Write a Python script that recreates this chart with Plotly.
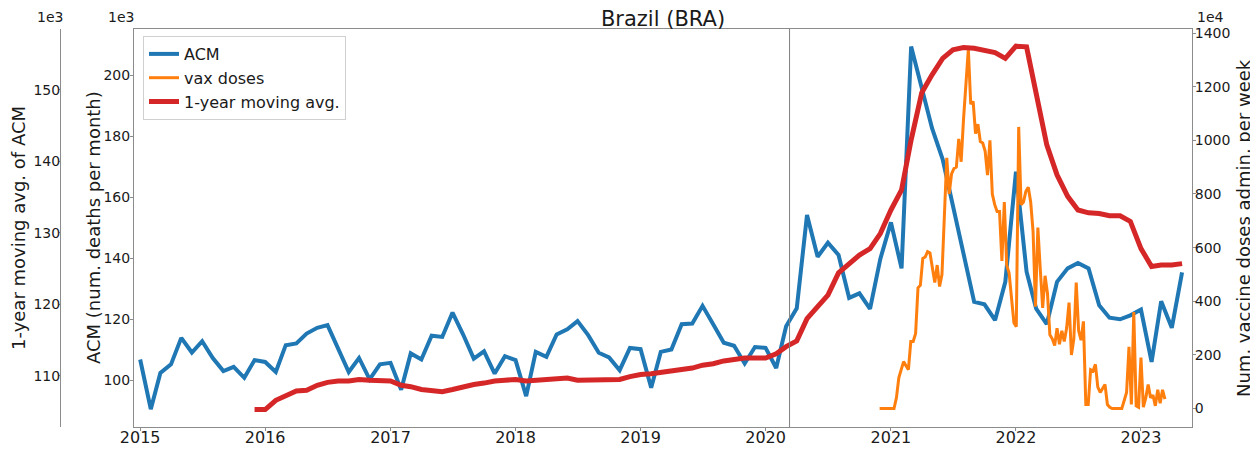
import pandas as pd
import plotly.graph_objects as go

# ── Data ─────────────────────────────────────────────────────────────────────
# ACM: monthly all-cause deaths, thousands (axis offset 1e3)
acm_start = "2015-01-01"
acm = [
    106.8, 90.5, 102.4, 105.2, 113.9, 109.1, 112.8, 107.3, 103.0, 104.4, 100.8, 106.6,
    106.0, 102.7, 111.5, 112.1, 115.3, 117.2, 118.1, 110.4, 102.7, 107.3, 100.3, 105.2,
    105.7, 96.9, 108.8, 106.8, 114.6, 114.2, 122.2, 115.0, 107.1, 109.5, 102.2, 107.9,
    106.6, 94.8, 109.3, 107.7, 115.0, 116.7, 119.4, 114.8, 109.0, 107.5, 103.3, 110.6,
    110.2, 97.5, 109.3, 110.1, 118.4, 118.6, 124.4, 118.4, 112.3, 111.3, 105.5, 110.9,
    110.6, 104.0, 117.7, 123.6, 154.2, 140.5, 145.1, 141.1, 127.0, 128.5, 123.4, 139.8,
    151.8, 136.7, 209.5, 195.9, 182.7, 172.5, 157.5, 141.6, 125.7, 124.9, 119.7, 132.3,
    168.4, 135.6, 123.5, 118.4, 132.3, 136.7, 138.5, 136.7, 124.6, 120.5, 120.0, 121.3,
    123.2, 106.0, 125.9, 117.2, 135.4,
]

# 1-year moving average of ACM, thousands (outer left axis)
mavg_start = "2015-12-01"
mavg = [
    105.3,
    105.3, 106.6, 107.3, 107.9, 108.0, 108.7, 109.1, 109.3, 109.3, 109.5, 109.4, 109.3,
    109.3, 108.7, 108.5, 108.1, 108.0, 107.8, 108.1, 108.5, 108.8, 109.0, 109.3, 109.4,
    109.5, 109.3, 109.4, 109.4, 109.5, 109.7, 109.4, 109.4, 109.5, 109.4, 109.5, 109.9,
    110.2, 110.3, 110.5, 110.7, 111.0, 111.1, 111.5, 111.7, 112.1, 112.3, 112.5, 112.5,
    112.5, 113.1, 114.1, 114.9, 118.0, 119.7, 121.3, 124.4, 125.7, 126.9, 127.8, 129.9,
    133.2, 136.0, 143.0, 149.6, 152.1, 154.4, 155.6, 155.9, 155.8, 155.5, 155.2, 154.4,
    156.1, 156.0, 149.1, 142.3, 138.1, 135.1, 133.2, 132.8, 132.7, 132.4, 132.4, 131.6,
    127.8, 125.3, 125.5, 125.5, 125.7,
]

# vaccine doses administered per week, units of 1e4
vax_start = "2020-11-29"
vax = [
    0, 0, 0, 0, 0, 0, 0, 40, 115, 145, 175, 160, 145, 250, 250, 280, 450, 460, 560, 565,
    585, 580, 520, 470, 535, 455, 500, 700, 935, 800, 875, 895, 900, 1005, 920, 1080, 1205, 1340, 1135, 1145,
    1025, 1060, 995, 990, 960, 870, 1000, 800, 760, 735, 735, 550, 770, 535, 505, 400, 320, 305, 1050, 760,
    770, 810, 825, 770, 660, 380, 675, 520, 375, 495, 430, 275, 260, 235, 300, 240, 290, 250, 300, 395,
    200, 260, 470, 290, 255, 325, 15, 15, 145, 140, 165, 80, 60, 75, 90, 15, 5, 0, 0, 0,
    0, 0, 30, 60, 230, 15, 360, 10, 5, 190, 5, 40, 90, 40, 50, 10, 70, 20, 70, 35,
]

YEAR_TICKS = ["2015", "2016", "2017", "2018", "2019", "2020", "2021", "2022", "2023"]
PANDEMIC_DATE = "2020-03-11"

acm_dates = pd.date_range(acm_start, periods=len(acm), freq="MS")
mavg_dates = pd.date_range(mavg_start, periods=len(mavg), freq="MS")
vax_dates = pd.date_range(vax_start, periods=len(vax), freq="7D")

# ── Styles ───────────────────────────────────────────────────────────────────
BLUE = "#1f77b4"
ORANGE = "#ff7f0e"
RED = "#d62728"
FRAME = "#8c8c8c"
FONT = "DejaVu Sans"
TXT = "#1a1a1a"

# the page body adds an 8px offset; positions below are in window pixels
OFF = 8
W, H = 1258 - OFF, 451 - OFF
ML, MR, MT, MB = 60 - OFF, 66, 29 - OFF, 24
PW = W - ML - MR
PH = H - MT - MB


def px_x(p):
    """window pixel x -> paper x"""
    return (p - OFF - ML) / PW


def px_y(p):
    """window pixel y -> paper y"""
    return 1 - (p - OFF - MT) / PH


fig = go.Figure()
fig.add_trace(go.Scatter(x=acm_dates, y=acm, name="ACM", mode="lines",
                         line=dict(color=BLUE, width=4), yaxis="y"))
fig.add_trace(go.Scatter(x=vax_dates, y=vax, name="vax doses", mode="lines",
                         line=dict(color=ORANGE, width=3), yaxis="y2"))
fig.add_trace(go.Scatter(x=mavg_dates, y=mavg, name="1-year moving avg.", mode="lines",
                         line=dict(color=RED, width=5), yaxis="y3"))

axis_common = dict(showgrid=False, zeroline=False, showline=True, linecolor=FRAME,
                   linewidth=1, ticks="outside", ticklen=3, tickcolor=FRAME,
                   automargin=False,
                   tickfont=dict(family=FONT, size=14, color=TXT))

fig.update_layout(
    width=W, height=H,
    margin=dict(l=ML, r=MR, t=MT, b=MB, autoexpand=False),
    paper_bgcolor="white", plot_bgcolor="white",
    font=dict(family=FONT, color=TXT),
    title=dict(text="Brazil (BRA)", font=dict(family=FONT, size=21, color=TXT),
               xref="paper", x=px_x(663), xanchor="center",
               yref="container", y=1 - (19 - OFF) / H, yanchor="middle", automargin=False),
    xaxis=dict(
        axis_common, domain=[px_x(134), 1], mirror=True,
        range=["2014-12-14", "2023-05-30"],
        tickvals=[f"{y}-01-01" for y in YEAR_TICKS], ticktext=YEAR_TICKS,
        tickfont=dict(family=FONT, size=16, color=TXT),
        ticklabelstandoff=-7,
    ),
    yaxis=dict(
        axis_common, mirror=True, range=[84.65, 215.25],
        tickvals=[100, 120, 140, 160, 180, 200], ticklabelstandoff=-3,
    ),
    yaxis2=dict(
        axis_common, overlaying="y", side="right", anchor="x",
        range=[-68.7, 1415], tickvals=list(range(0, 1401, 200)), ticklabelstandoff=-4,
    ),
    yaxis3=dict(
        axis_common, overlaying="y", side="left", anchor="free", position=0,
        range=[102.86, 158.5], tickvals=[110, 120, 130, 140, 150],
        ticklen=1, ticklabelstandoff=-4,
    ),
    legend=dict(
        x=px_x(143), y=px_y(36), xanchor="left", yanchor="top",
        bgcolor="rgba(255,255,255,0.8)", bordercolor="#d0d0d0", borderwidth=1,
        font=dict(family=FONT, size=16, color=TXT),
        tracegroupgap=0,
    ),
    showlegend=True,
)

# pandemic marker
fig.add_shape(type="line", xref="x", yref="paper", x0=PANDEMIC_DATE, x1=PANDEMIC_DATE,
              y0=0, y1=1, line=dict(color="#808080", width=1))

# axis titles
for text, xpx in [("1-year moving avg. of ACM", 18),
                  ("ACM (num. deaths per month)", 93),
                  ("Num. vaccine doses admin. per week", 1243)]:
    fig.add_annotation(text=text, xref="paper", yref="paper", x=px_x(xpx), y=0.5,
                       xanchor="center", yanchor="middle", textangle=-90, showarrow=False,
                       font=dict(family=FONT, size=18, color=TXT))

# 1eN offset labels
for text, xpx in [("1e3", 50), ("1e3", 121), ("1e4", 1211)]:
    fig.add_annotation(text=text, xref="paper", yref="paper", x=px_x(xpx), y=px_y(17),
                       xanchor="center", yanchor="middle", showarrow=False,
                       font=dict(family=FONT, size=14, color=TXT))

fig.write_html("out.html")
